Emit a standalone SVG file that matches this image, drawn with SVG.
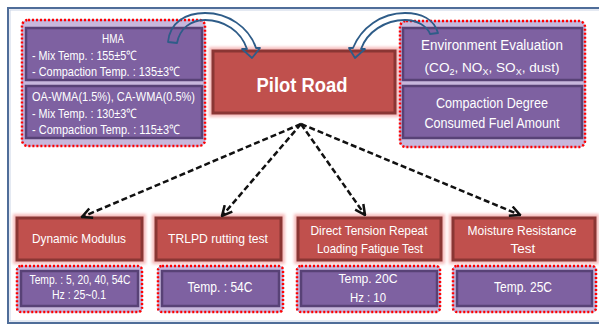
<svg xmlns="http://www.w3.org/2000/svg" width="599" height="326" viewBox="0 0 599 326">
  <style>
    .frame { fill: #ffffff; stroke: #4f6d99; stroke-width: 2; }
    .frame-in { fill: none; stroke: #c9d4e6; stroke-width: 1; }
    .halo { fill: #f6bcbc; filter: url(#soft); }
    .red { fill: #c0504d; stroke: #8a3634; stroke-width: 3; }
    .tray { fill: #c7b7dc; stroke: #b09acb; stroke-width: 1; }
    .dots { fill: none; stroke: #ff0000; stroke-width: 2.5; stroke-dasharray: 2 2; }
    .purple { fill: #7e61a1; stroke: #584276; stroke-width: 2.5; }
    .t { fill: #ffffff; font-family: "Liberation Sans", Arial, sans-serif; }
    .c { text-anchor: middle; }
    .title { font-size: 21px; font-weight: bold; }
    .bend { fill: none; stroke: #2e5c88; stroke-width: 1.8; stroke-linejoin: round; }
    .dash { fill: none; stroke: #111111; stroke-width: 2.5; stroke-dasharray: 6 3; marker-end: url(#chev); }
  </style>
  <defs>
    <filter id="soft" x="-10%" y="-20%" width="120%" height="140%">
      <feGaussianBlur stdDeviation="1.8"/>
    </filter>
    <marker id="chev" viewBox="0 0 10 10" refX="9" refY="5" markerWidth="5" markerHeight="5" orient="auto" markerUnits="strokeWidth">
      <path d="M1,1 L9,5 L1,9" fill="none" stroke="#111111" stroke-width="2"/>
    </marker>
  </defs>

  <!-- outer frame -->
  <rect class="frame" x="8" y="8" width="620" height="315"/>
  <rect class="frame-in" x="10" y="10" width="620" height="311"/>

  <!-- mixture conditions -->
  <g id="mixes">
    <rect class="tray" x="22" y="20" width="183" height="126" rx="6"/>
    <rect class="dots" x="22" y="20" width="183" height="126" rx="6"/>
    <rect class="purple" x="26" y="28" width="176" height="52"/>
    <text class="t c" x="113" y="43" font-size="13" textLength="22" lengthAdjust="spacingAndGlyphs">HMA</text>
    <text class="t" x="32" y="60" font-size="13" textLength="105" lengthAdjust="spacingAndGlyphs">- Mix Temp.  : 155±5℃</text>
    <text class="t" x="32" y="76" font-size="13" textLength="148" lengthAdjust="spacingAndGlyphs">- Compaction  Temp.  : 135±3℃</text>
    <rect class="purple" x="26" y="86" width="176" height="52"/>
    <text class="t" x="32" y="101" font-size="13" textLength="163" lengthAdjust="spacingAndGlyphs">OA-WMA(1.5%), CA-WMA(0.5%)</text>
    <text class="t" x="32" y="118" font-size="13" textLength="105" lengthAdjust="spacingAndGlyphs">- Mix Temp.  : 130±3℃</text>
    <text class="t" x="32" y="134" font-size="13" textLength="148" lengthAdjust="spacingAndGlyphs">- Compaction  Temp.  : 115±3℃</text>
  </g>

  <!-- central node -->
  <g id="pilot-road">
    <rect class="halo" x="209" y="47" width="190" height="70"/>
    <rect class="red" x="213" y="51" width="182" height="62"/>
    <text class="t c title" x="302" y="92" textLength="91" lengthAdjust="spacingAndGlyphs">Pilot Road</text>
  </g>

  <!-- field measurements -->
  <g id="measurements">
    <rect class="tray" x="400" y="21" width="185" height="126" rx="6"/>
    <rect class="dots" x="400" y="21" width="185" height="126" rx="6"/>
    <rect class="purple" x="403" y="28" width="179" height="52"/>
    <text class="t c" x="492" y="50" font-size="14" textLength="142" lengthAdjust="spacingAndGlyphs">Environment  Evaluation</text>
    <text class="t c" x="492" y="72" font-size="13.6">(CO<tspan font-size="9" baseline-shift="-3">2</tspan>, NO<tspan font-size="9" baseline-shift="-3">X</tspan>, SO<tspan font-size="9" baseline-shift="-3">X</tspan>, dust)</text>
    <rect class="purple" x="403" y="86" width="179" height="52"/>
    <text class="t c" x="492" y="108" font-size="14" textLength="112" lengthAdjust="spacingAndGlyphs">Compaction Degree</text>
    <text class="t c" x="492" y="128" font-size="14" textLength="135" lengthAdjust="spacingAndGlyphs">Consumed Fuel Amount</text>
  </g>

  <!-- tests -->
  <g id="dynamic-modulus">
    <rect class="halo" x="13" y="214" width="133" height="50"/>
    <rect class="red" x="17" y="218" width="125" height="42"/>
    <text class="t c" x="79" y="243" font-size="13.5" textLength="94" lengthAdjust="spacingAndGlyphs">Dynamic Modulus</text>
    <rect class="tray" x="17" y="266" width="125" height="46" rx="4"/>
    <rect class="dots" x="17" y="266" width="125" height="46" rx="4"/>
    <rect class="purple" x="21" y="271" width="117" height="35"/>
    <text class="t c" x="80" y="284" font-size="12.5" textLength="101" lengthAdjust="spacingAndGlyphs">Temp. : 5, 20, 40, 54C</text>
    <text class="t c" x="79" y="299" font-size="12.5" textLength="54" lengthAdjust="spacingAndGlyphs">Hz : 25~0.1</text>
  </g>

  <g id="trlpd">
    <rect class="halo" x="152" y="214" width="133" height="50"/>
    <rect class="red" x="156" y="218" width="125" height="42"/>
    <text class="t c" x="218" y="243" font-size="13.5" textLength="100" lengthAdjust="spacingAndGlyphs">TRLPD rutting test</text>
    <rect class="tray" x="158" y="266" width="125" height="46" rx="4"/>
    <rect class="dots" x="158" y="266" width="125" height="46" rx="4"/>
    <rect class="purple" x="162" y="271" width="117" height="35"/>
    <text class="t c" x="220" y="292" font-size="14.5" textLength="65" lengthAdjust="spacingAndGlyphs">Temp. : 54C</text>
  </g>

  <g id="direct-tension">
    <rect class="halo" x="294" y="214" width="151" height="50"/>
    <rect class="red" x="298" y="218" width="143" height="42"/>
    <text class="t c" x="369" y="235" font-size="13.5" textLength="117" lengthAdjust="spacingAndGlyphs">Direct Tension Repeat</text>
    <text class="t c" x="370" y="253" font-size="13.5" textLength="106" lengthAdjust="spacingAndGlyphs">Loading Fatigue Test</text>
    <rect class="tray" x="297" y="266" width="143" height="46" rx="4"/>
    <rect class="dots" x="297" y="266" width="143" height="46" rx="4"/>
    <rect class="purple" x="301" y="271" width="136" height="35"/>
    <text class="t c" x="368" y="283" font-size="13.5" textLength="59" lengthAdjust="spacingAndGlyphs">Temp. 20C</text>
    <text class="t c" x="368" y="302" font-size="13.5" textLength="36" lengthAdjust="spacingAndGlyphs">Hz : 10</text>
  </g>

  <g id="moisture-resistance">
    <rect class="halo" x="449" y="214" width="150" height="50"/>
    <rect class="red" x="453" y="218" width="142" height="42"/>
    <text class="t c" x="522" y="235" font-size="13.5" textLength="109" lengthAdjust="spacingAndGlyphs">Moisture Resistance</text>
    <text class="t c" x="523" y="253" font-size="13.5">Test</text>
    <rect class="tray" x="453" y="266" width="143" height="46" rx="4"/>
    <rect class="dots" x="453" y="266" width="143" height="46" rx="4"/>
    <rect class="purple" x="457" y="271" width="135" height="35"/>
    <text class="t c" x="523" y="292" font-size="14" textLength="58" lengthAdjust="spacingAndGlyphs">Temp. 25C</text>
  </g>

  <!-- connectors -->
  <g id="connectors">
    <path class="bend" d="M168,42 C170,22 186,13 205,13 C228,13 249,27 256,48 L260,48 L252,58 L242,49 L247,49 C241,31 224,20 205,20 C191,20 180,28 177,43 Z"/>
    <path class="bend" d="M438,33 C434,19 421,13 405,13 C381,13 361,28 353,48 L349,48 L355,58 L365,49 L361,49 C367,32 385,20 405,20 C417,20 427,26 430,34 Z"/>
    <path class="dash" d="M301,124 L82,217"/>
    <path class="dash" d="M301,124 L222,216"/>
    <path class="dash" d="M301,124 L365,215"/>
    <path class="dash" d="M301,124 L520,215"/>
  </g>
</svg>
